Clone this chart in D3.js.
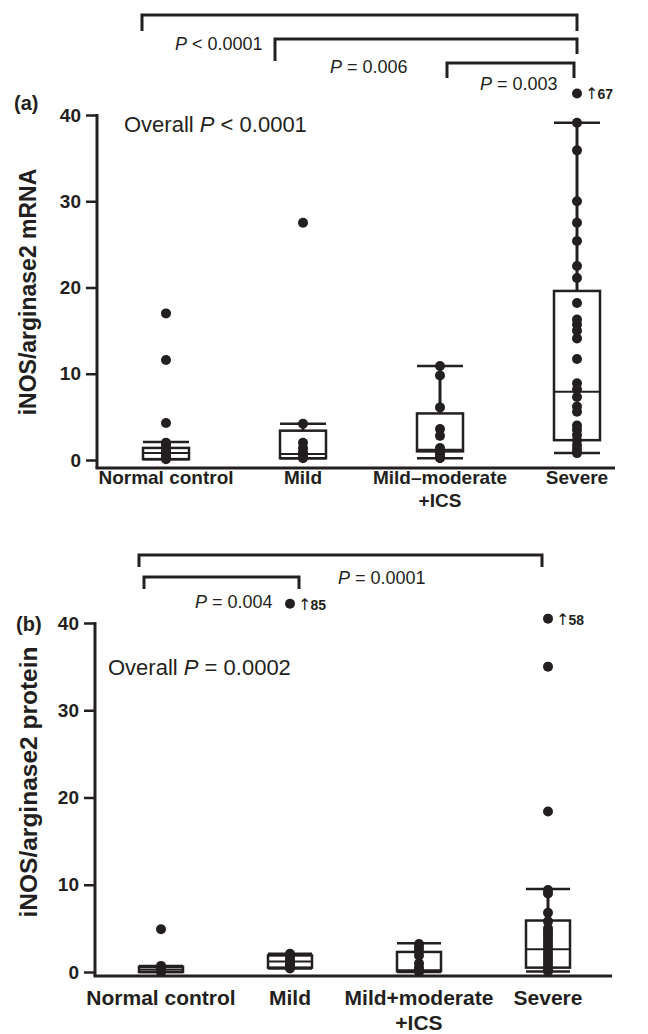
<!DOCTYPE html>
<html><head><meta charset="utf-8">
<script src="https://cdn.jsdelivr.net/npm/d3@7"></script>
<style>
body{margin:0;background:#fff;}
svg{display:block;font-family:"Liberation Sans",Arial,Helvetica,sans-serif;}
</style></head>
<body><svg id="chart" width="648" height="1034"></svg>
<script>
// ---------- DATA ----------
const categories = ["Normal control","Mild","Mild-moderate","Severe"];
const catLabelsA = [["Normal control"],["Mild"],["Mild\u2013moderate","+ICS"],["Severe"]];
const catLabelsB = [["Normal control"],["Mild"],["Mild+moderate","+ICS"],["Severe"]];
const yTicks = [0,10,20,30,40];

// Panel (a) mRNA
const a_q1 = [0.1, 0.2, 1.0, 2.3];
const a_median = [0.8, 0.7, 1.2, 7.9];
const a_q3 = [1.4, 3.4, 5.4, 19.6];
const a_lo = [0.1, 0.2, 0.2, 0.8];
const a_hi = [2.1, 4.2, 10.9, 39.1];
const a_points = [
  [17.0, 11.6, 4.3, 2.0, 1.7, 1.3, 1.0, 0.8, 0.5, 0.3, 0.1],
  [27.5, 4.2, 2.0, 1.4, 0.9, 0.5, 0.2],
  [10.9, 9.8, 6.1, 3.6, 2.8, 1.4, 1.0, 0.7, 0.4, 0.2],
  [42.5, 39.1, 35.9, 30.0, 27.5, 25.4, 22.5, 21.1, 18.2, 16.3, 15.7, 15.0, 14.1, 11.7, 8.9, 8.2, 7.3, 6.2, 5.6, 4.0, 3.5, 2.9, 2.3, 1.7, 1.2, 0.8]
];
const a_offscale = [{cat:3, shown:42.5, actual:67}];
const a_pairs = [
  {from:0, to:3, p:"< 0.0001"},
  {from:1, to:3, p:"= 0.006"},
  {from:2, to:3, p:"= 0.003"}
];

// Panel (b) protein
const b_q1 = [0.0, 0.5, 0.1, 0.5];
const b_median = [0.3, 1.2, 0.2, 2.6];
const b_q3 = [0.6, 1.9, 2.3, 5.9];
const b_lo = [0.0, 0.4, 0.0, 0.05];
const b_hi = [0.7, 2.1, 3.3, 9.5];
const b_points = [
  [4.9, 0.7, 0.5, 0.4, 0.3, 0.2, 0.1, 0.0],
  [42.2, 2.1, 1.8, 1.5, 1.2, 0.9, 0.6, 0.4],
  [3.2, 2.8, 2.4, 1.9, 1.0, 0.5, 0.2, 0.0],
  [40.5, 35.0, 18.4, 9.4, 9.0, 6.8, 5.8, 5.0, 4.6, 4.2, 3.8, 3.4, 3.0, 2.6, 2.2, 1.8, 1.4, 1.0, 0.6, 0.3, 0.1]
];
const b_offscale = [{cat:1, shown:42.2, actual:85},{cat:3, shown:40.5, actual:58}];
const b_pairs = [
  {from:0, to:3, p:"= 0.0001"},
  {from:0, to:1, p:"= 0.004"}
];

// ---------- DRAW ----------
const svg = d3.select("#chart");
const INK = "#231f20";

function panel(cfg){
  const g = svg.append("g");
  const y = d3.scaleLinear().domain([0,40]).range([cfg.y0, cfg.y40]);
  const x = d3.scalePoint().domain(categories).range(cfg.xRange);
  const cx = i => x(categories[i]);

  // axes lines
  g.append("line").attr("x1",cfg.axX).attr("x2",cfg.axX).attr("y1",y(40)-1).attr("y2",cfg.baseY)
    .attr("stroke",INK).attr("stroke-width",3);
  g.append("line").attr("x1",cfg.axX-1.5).attr("x2",cfg.axEnd).attr("y1",cfg.baseY).attr("y2",cfg.baseY)
    .attr("stroke",INK).attr("stroke-width",3);
  const yAxis = d3.axisLeft(y).tickValues(yTicks).tickSize(11).tickPadding(5);
  const ag = g.append("g").attr("transform",`translate(${cfg.axX},0)`).call(yAxis);
  ag.select(".domain").remove();
  ag.selectAll(".tick line").attr("stroke",INK).attr("stroke-width",2.5);
  ag.selectAll(".tick text").attr("fill",INK).attr("font-size",cfg.tickFont).attr("font-weight","bold")
    .attr("font-family","'Liberation Sans',Arial,sans-serif");

  // y title
  g.append("text").attr("transform",`translate(${cfg.titleX},${cfg.titleY}) rotate(-90)`)
    .attr("text-anchor","middle").attr("font-size",cfg.titleFont).attr("font-weight","bold").attr("fill",INK)
    .text(cfg.title);
  // panel letter
  g.append("text").attr("x",cfg.letterX).attr("y",cfg.letterY).attr("font-size",cfg.letterFont)
    .attr("font-weight","bold").attr("fill",INK).text(cfg.letter);

  // x labels
  cfg.labels.forEach((lines,i)=>{
    lines.forEach((t,k)=>{
      g.append("text").attr("x",cx(i)).attr("y",cfg.labelY + k*cfg.labelLH)
        .attr("text-anchor","middle").attr("font-size",cfg.labelFont).attr("font-weight","bold")
        .attr("fill",INK).text(t);
    });
  });

  // boxes
  const bw = cfg.boxW;
  categories.forEach((c,i)=>{
    const xc = cx(i);
    const bg = g.append("g").attr("stroke",INK).attr("fill","none");
    bg.append("line").attr("x1",xc).attr("x2",xc).attr("y1",y(cfg.q3[i])).attr("y2",y(cfg.hi[i])).attr("stroke-width",3);
    bg.append("line").attr("x1",xc).attr("x2",xc).attr("y1",y(cfg.q1[i])).attr("y2",y(cfg.lo[i])).attr("stroke-width",3);
    bg.append("line").attr("x1",xc-bw/2).attr("x2",xc+bw/2).attr("y1",y(cfg.hi[i])).attr("y2",y(cfg.hi[i])).attr("stroke-width",2.5);
    bg.append("line").attr("x1",xc-bw/2).attr("x2",xc+bw/2).attr("y1",y(cfg.lo[i])).attr("y2",y(cfg.lo[i])).attr("stroke-width",2.5);
    bg.append("rect").attr("x",xc-bw/2).attr("width",bw).attr("y",y(cfg.q3[i]))
      .attr("height",Math.max(0.5,y(cfg.q1[i])-y(cfg.q3[i]))).attr("stroke-width",2.5);
    bg.append("line").attr("x1",xc-bw/2).attr("x2",xc+bw/2).attr("y1",y(cfg.median[i])).attr("y2",y(cfg.median[i])).attr("stroke-width",2);
  });

  // points
  cfg.points.forEach((arr,i)=>{
    g.selectAll(null).data(arr).enter().append("circle")
      .attr("cx",cx(i)).attr("cy",d=>y(d)).attr("r",cfg.r).attr("fill",INK);
  });

  // off-scale labels
  cfg.offscale.forEach(o=>{
    const t = g.append("text").attr("x",cx(o.cat)+cfg.r+3).attr("y",y(o.shown)+6)
      .attr("fill",INK);
    t.append("tspan").attr("font-family","'DejaVu Sans',sans-serif").attr("font-weight","normal")
      .attr("font-size",16).text("\u2191");
    t.append("tspan").attr("font-weight","bold").attr("font-size",14).attr("dx",-1).text(o.actual);
  });

  // overall
  const ov = g.append("text").attr("x",cfg.ovX).attr("y",cfg.ovY).attr("font-size",22).attr("fill",INK);
  ov.append("tspan").text("Overall ");
  ov.append("tspan").attr("font-style","italic").text("P");
  ov.append("tspan").text(" " + cfg.overall);

  // brackets
  cfg.brackets.forEach((b,k)=>{
    const pr = cfg.pairs[k];
    const xl = cx(pr.from)+b.dl, xr = cx(pr.to)+b.dr;
    g.append("path").attr("d",`M${xl},${b.y+b.legL}V${b.y}H${xr}V${b.y+b.legR}`)
      .attr("fill","none").attr("stroke",INK).attr("stroke-width",3);
    const t = g.append("text").attr("x",b.tx).attr("y",b.ty).attr("font-size",18).attr("fill",INK)
      .attr("text-anchor",b.anchor||"start");
    t.append("tspan").attr("font-style","italic").text("P");
    t.append("tspan").text(" " + pr.p);
  });
}

panel({
  y0:460, y40:115, xRange:[166,577], axX:97, axEnd:615, baseY:468,
  q1:a_q1, median:a_median, q3:a_q3, lo:a_lo, hi:a_hi, points:a_points, offscale:a_offscale,
  boxW:46, r:5, tickFont:19,
  title:"iNOS/arginase2 mRNA", titleX:36, titleY:292, titleFont:23,
  letter:"(a)", letterX:14, letterY:110, letterFont:20,
  labels:catLabelsA, labelY:484, labelLH:23, labelFont:19,
  overall:"< 0.0001", ovX:124, ovY:132,
  pairs:a_pairs,
  brackets:[
    {dl:-24, dr:0, y:15, legL:16, legR:16, tx:175, ty:50},
    {dl:-28, dr:0, y:39, legL:22, legR:15, tx:330, ty:73},
    {dl:7, dr:-3, y:63, legL:15, legR:15, tx:480, ty:90}
  ]
});

panel({
  y0:972, y40:623, xRange:[161,548], axX:95, axEnd:612, baseY:976,
  q1:b_q1, median:b_median, q3:b_q3, lo:b_lo, hi:b_hi, points:b_points, offscale:b_offscale,
  boxW:44, r:5, tickFont:19,
  title:"iNOS/arginase2 protein", titleX:37, titleY:782, titleFont:24.5,
  letter:"(b)", letterX:16, letterY:631, letterFont:20,
  labels:catLabelsB, labelY:1005, labelLH:25, labelFont:21,
  overall:"= 0.0002", ovX:108, ovY:675,
  pairs:b_pairs,
  brackets:[
    {dl:-22, dr:-6, y:555, legL:12, legR:12, tx:338, ty:584},
    {dl:-17, dr:9, y:577, legL:12, legR:12, tx:195, ty:608}
  ]
});
</script></body></html>
